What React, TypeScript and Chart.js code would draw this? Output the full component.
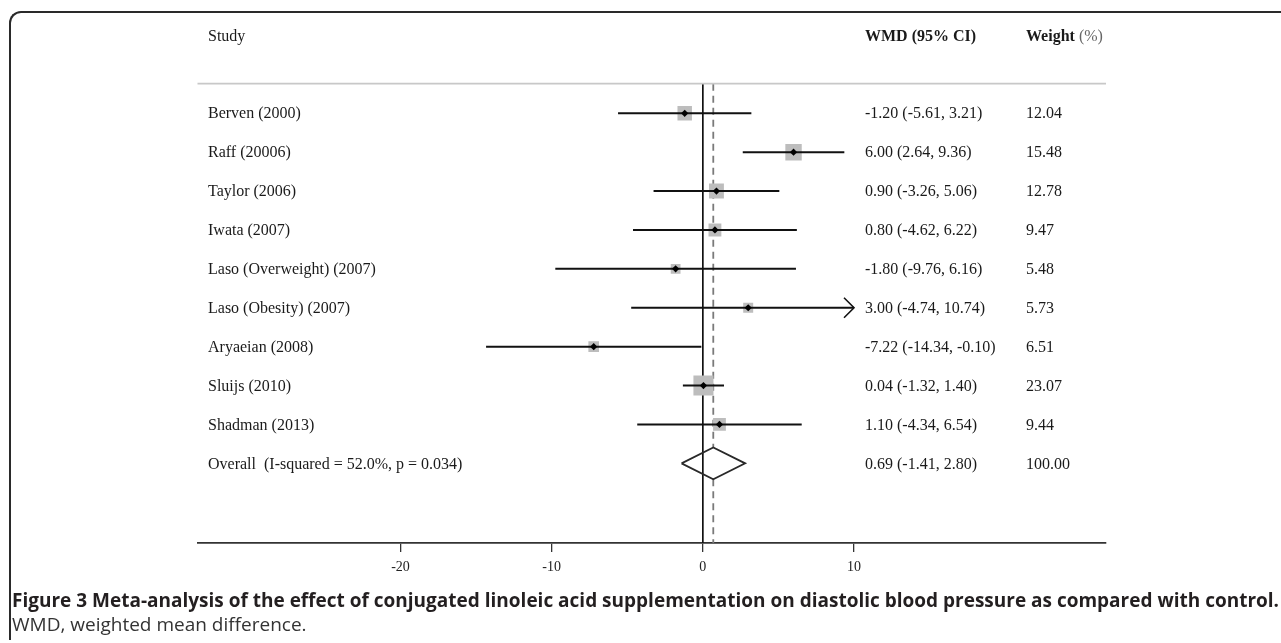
import React, { useEffect, useRef } from "react";
import { Chart, registerables } from "chart.js";

Chart.register(...registerables);

// ---------- data ----------
const STUDIES = [
  "Berven (2000)",
  "Raff (20006)",
  "Taylor (2006)",
  "Iwata (2007)",
  "Laso (Overweight) (2007)",
  "Laso (Obesity) (2007)",
  "Aryaeian (2008)",
  "Sluijs (2010)",
  "Shadman (2013)",
];
const WMD = [-1.2, 6.0, 0.9, 0.8, -1.8, 3.0, -7.22, 0.04, 1.1];
const CI_LOW = [-5.61, 2.64, -3.26, -4.62, -9.76, -4.74, -14.34, -1.32, -4.34];
const CI_HIGH = [3.21, 9.36, 5.06, 6.22, 6.16, 10.74, -0.1, 1.4, 6.54];
const WEIGHTS = [12.04, 15.48, 12.78, 9.47, 5.48, 5.73, 6.51, 23.07, 9.44];

const OVERALL_LABEL = "Overall  (I-squared = 52.0%, p = 0.034)";
const OVERALL_WMD = [0.69];
const OVERALL_LOW = [-1.41];
const OVERALL_HIGH = [2.8];
const OVERALL_WEIGHT = [100.0];

const X_TICKS = [-20, -10, 0, 10];
const HEADERS = ["Study", "WMD (95% CI)", "Weight", " (%)"];

// ---------- layout constants ----------
const X_MIN = -33.43;
const X_MAX = 26.67;
const Y_MIN = -2.2;
const Y_MAX = 11.05;
const SEP_ROW = -0.76;
const HEADER_ROW = -2;
const DIAMOND_HALF = 0.41;
const SQUARE_SCALE = 2.95; // radius per sqrt(weight)
const CLIP_MAX = X_TICKS[X_TICKS.length - 1];

const LABEL_X = 208;
const WMD_X = 865;
const WEIGHT_X = 1026;

const SERIF = '"Liberation Serif", "Times New Roman", serif';

const fmt = (v: number) => v.toFixed(2);

const forestText = {
  id: "forestText",
  afterDatasetsDraw(chart: any) {
    const { ctx, chartArea, scales } = chart;
    const x = scales.x;
    const y = scales.y;
    ctx.save();

    // separator
    const sy = y.getPixelForValue(SEP_ROW);
    ctx.strokeStyle = "#c8c8c8";
    ctx.lineWidth = 1.8;
    ctx.beginPath();
    ctx.moveTo(chartArea.left, sy);
    ctx.lineTo(chartArea.right, sy);
    ctx.stroke();

    // arrows for clipped CIs
    ctx.strokeStyle = "#111";
    ctx.lineWidth = 1.6;
    CI_HIGH.forEach((hi, i) => {
      if (hi > CLIP_MAX) {
        const px = x.getPixelForValue(CLIP_MAX);
        const py = y.getPixelForValue(i);
        ctx.beginPath();
        ctx.moveTo(px - 10, py - 10);
        ctx.lineTo(px, py);
        ctx.lineTo(px - 10, py + 10);
        ctx.stroke();
      }
    });

    ctx.textBaseline = "middle";
    ctx.textAlign = "left";
    ctx.fillStyle = "#1a1a1a";

    // header
    const hy = y.getPixelForValue(HEADER_ROW) + 1;
    ctx.font = `16px ${SERIF}`;
    ctx.fillText(HEADERS[0], LABEL_X, hy);
    ctx.font = `bold 16px ${SERIF}`;
    ctx.fillText(HEADERS[1], WMD_X, hy);
    ctx.fillText(HEADERS[2], WEIGHT_X, hy);
    const ww = ctx.measureText(HEADERS[2]).width;
    ctx.font = `16px ${SERIF}`;
    ctx.fillStyle = "#666";
    ctx.fillText(HEADERS[3], WEIGHT_X + ww, hy);
    ctx.fillStyle = "#1a1a1a";

    // rows
    ctx.font = `16px ${SERIF}`;
    STUDIES.forEach((s, i) => {
      const py = y.getPixelForValue(i) + 1;
      ctx.fillText(s, LABEL_X, py);
      ctx.fillText(`${fmt(WMD[i])} (${fmt(CI_LOW[i])}, ${fmt(CI_HIGH[i])})`, WMD_X, py);
      ctx.fillText(fmt(WEIGHTS[i]), WEIGHT_X, py);
    });
    const oy = y.getPixelForValue(STUDIES.length) + 1;
    ctx.fillText(OVERALL_LABEL, LABEL_X, oy);
    ctx.fillText(`${fmt(OVERALL_WMD[0])} (${fmt(OVERALL_LOW[0])}, ${fmt(OVERALL_HIGH[0])})`, WMD_X, oy);
    ctx.fillText(fmt(OVERALL_WEIGHT[0]), WEIGHT_X, oy);

    ctx.restore();
  },
};

export default function App() {
  const ref = useRef<HTMLCanvasElement>(null);

  useEffect(() => {
    const canvas = ref.current;
    if (!canvas) return;
    const n = STUDIES.length;
    const oRow = n;
    const est = OVERALL_WMD[0];

    const ciSets = STUDIES.map((s, i) => ({
      label: `ci-${s}`,
      data: [
        { x: CI_LOW[i], y: i },
        { x: Math.min(CI_HIGH[i], CLIP_MAX), y: i },
      ],
      showLine: true,
      borderColor: "#111",
      borderWidth: 2,
      pointRadius: 0,
      order: 1,
    }));

    const chart = new Chart(canvas, {
      type: "scatter",
      data: {
        datasets: [
          {
            label: "zero",
            data: [
              { x: 0, y: SEP_ROW },
              { x: 0, y: Y_MAX },
            ],
            showLine: true,
            borderColor: "#111",
            borderWidth: 1.7,
            pointRadius: 0,
            order: 4,
          },
          {
            label: "overall-ref-top",
            data: [
              { x: est, y: SEP_ROW },
              { x: est, y: oRow - DIAMOND_HALF },
            ],
            showLine: true,
            borderColor: "#7a7a7a",
            borderWidth: 1.8,
            borderDash: [7, 5],
            pointRadius: 0,
            order: 4,
          },
          {
            label: "overall-ref-bottom",
            data: [
              { x: est, y: oRow + DIAMOND_HALF },
              { x: est, y: Y_MAX },
            ],
            showLine: true,
            borderColor: "#7a7a7a",
            borderWidth: 1.8,
            borderDash: [7, 5],
            pointRadius: 0,
            order: 4,
          },
          {
            label: "weights",
            data: WMD.map((v, i) => ({ x: v, y: i })),
            pointStyle: "rect",
            backgroundColor: "#bdbdbd",
            borderWidth: 0,
            pointRadius: (c: any) => SQUARE_SCALE * Math.sqrt(WEIGHTS[c.dataIndex] ?? 0),
            order: 3,
          },
          ...ciSets,
          {
            label: "overall",
            data: [
              { x: OVERALL_LOW[0], y: oRow },
              { x: est, y: oRow - DIAMOND_HALF },
              { x: OVERALL_HIGH[0], y: oRow },
              { x: est, y: oRow + DIAMOND_HALF },
              { x: OVERALL_LOW[0], y: oRow },
            ],
            showLine: true,
            borderColor: "#2a2a2a",
            borderWidth: 1.8,
            pointRadius: 0,
            fill: false,
            order: 1,
          },
          {
            label: "estimates",
            data: WMD.map((v, i) => ({ x: v, y: i })),
            pointStyle: "rectRot",
            backgroundColor: "#000",
            borderColor: "#000",
            borderWidth: 0,
            pointRadius: 3.6,
            order: 0,
          },
        ],
      },
      options: {
        responsive: false,
        maintainAspectRatio: false,
        animation: false,
        events: [],
        layout: { padding: { left: 197.5, right: 175, top: 27.7, bottom: 16.9 } },
        plugins: {
          legend: { display: false },
          tooltip: { enabled: false },
          title: { display: false },
        },
        scales: {
          x: {
            type: "linear",
            position: "bottom",
            min: X_MIN,
            max: X_MAX,
            afterBuildTicks: (s: any) => {
              s.ticks = X_TICKS.map((v) => ({ value: v }));
            },
            afterFit: (s: any) => {
              s.height = 40;
            },
            grid: {
              drawOnChartArea: false,
              drawTicks: true,
              tickLength: 9,
              color: "#333",
              lineWidth: 1.3,
            },
            border: { display: true, color: "#333", width: 1.8 },
            ticks: {
              font: { family: SERIF, size: 14 },
              color: "#222",
              padding: 7,
              maxRotation: 0,
              autoSkip: false,
              callback: (v: any) => String(v),
            },
          },
          y: {
            type: "linear",
            reverse: true,
            min: Y_MIN,
            max: Y_MAX,
            display: false,
          },
        },
      },
      plugins: [forestText],
    } as any);

    return () => chart.destroy();
  }, []);

  return (
    <div style={{ position: "fixed", inset: 0, overflow: "hidden", background: "#fff" }}>
      <div
        style={{
          position: "absolute",
          left: 9,
          top: 11,
          width: 1272,
          height: 629,
          boxSizing: "border-box",
          borderTop: "2px solid #2a2a2a",
          borderLeft: "2px solid #2a2a2a",
          borderTopLeftRadius: 12,
        }}
      />
      <div style={{ position: "absolute", left: 0, top: 0, width: 1281, height: 600 }}>
        <canvas ref={ref} width={1281} height={600} style={{ width: 1281, height: 600, display: "block" }} />
      </div>
      <div
        style={{
          position: "absolute",
          left: 12,
          top: 588,
          fontFamily: '"Open Sans", "Noto Sans", sans-serif',
          fontSize: 19,
          lineHeight: "24px",
          whiteSpace: "nowrap",
        }}
      >
        <div style={{ fontWeight: 700, color: "#231f20" }}>
          Figure 3 Meta-analysis of the effect of conjugated linoleic acid supplementation on diastolic blood pressure as compared with control.
        </div>
        <div style={{ color: "#333" }}>WMD, weighted mean difference.</div>
      </div>
    </div>
  );
}
